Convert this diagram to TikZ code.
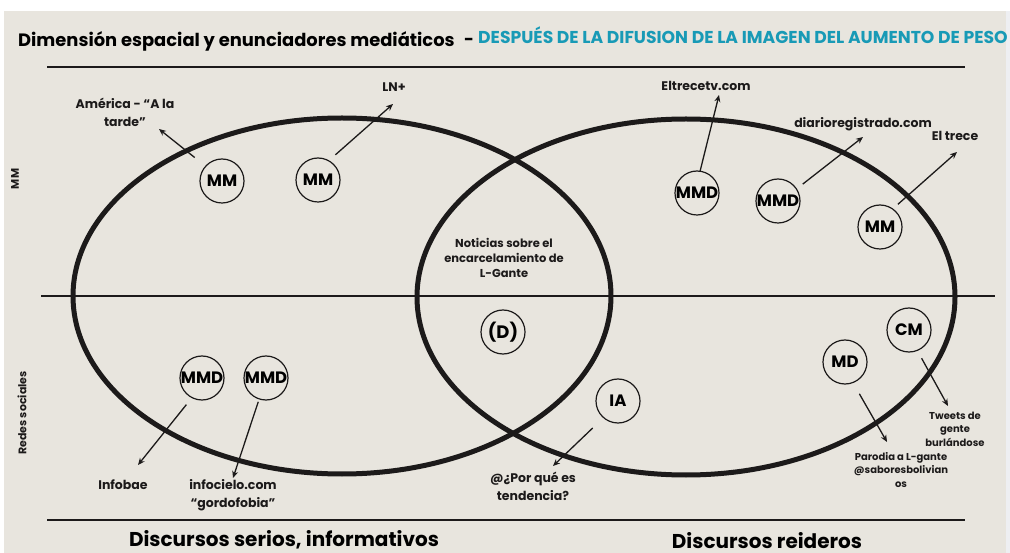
\documentclass[tikz,border=0pt]{standalone}
\usepackage{fontspec}
\setmainfont{Poppins}
\usetikzlibrary{arrows.meta}
\definecolor{bgbeige}{RGB}{232,229,222}
\definecolor{titleteal}{RGB}{24,154,182}
\definecolor{ink}{RGB}{28,26,26}
\definecolor{edgegrey}{RGB}{238,239,242}
\tikzset{
  disc/.style={circle, draw=ink, line width=1.2pt, minimum size=44pt, inner sep=0pt, outer sep=0pt,
    font=\fontsize{16.5}{16.5}\selectfont\bfseries, text=black},
  lbl/.style={font=\fontsize{12.5}{18}\selectfont\bfseries, align=center, inner sep=0pt, text=ink},
  smalllbl/.style={font=\fontsize{10}{13.5}\selectfont\bfseries, align=center, inner sep=0pt, text=ink},
  arr/.style={-{Stealth[length=7pt,width=6pt]}, line width=1.3pt, draw=ink},
  rulel/.style={line width=1.5pt, draw=ink},
  ring/.style={line width=5pt, draw=ink},
  headlbl/.style={font=\fontsize{20}{20}\selectfont\bfseries, inner sep=0pt, text=black},
  sidelbl/.style={font=\fontsize{11}{11}\selectfont\bfseries, inner sep=0pt, text=ink, rotate=90}
}
\begin{document}
\begin{tikzpicture}[x=1pt,y=-1pt]
\useasboundingbox (0,0) rectangle (1010,553);
\fill[white] (0,0) rectangle (1010,553);
\fill[bgbeige] (4,11) rectangle (1006,553);
\fill[edgegrey] (1006,11) rectangle (1010,553);

% title
\node[headlbl, anchor=base west, font=\fontsize{17.9}{17.9}\selectfont\bfseries] (title) at (18,47) {Dimensión espacial y enunciadores mediáticos};
\node[headlbl, anchor=base, font=\fontsize{17}{17}\selectfont\bfseries] (dash) at (469,46) {-};
\node[headlbl, anchor=base west, text=titleteal, font=\fontsize{17.2}{17.2}\selectfont\bfseries] (subtitle) at (478,44) {DESPUÉS DE LA DIFUSION DE LA IMAGEN DEL AUMENTO DE PESO};

% rules
\coordinate (topL) at (47,67);
\coordinate (topR) at (965,67);
\coordinate (midL) at (41,296);
\coordinate (midR) at (995,296);
\coordinate (botL) at (47,520);
\coordinate (botR) at (965,520);
\draw[rulel] (topL) -- (topR);
\draw[rulel] (midL) -- (midR);
\draw[rulel] (botL) -- (botR);

% ellipses
\draw[ring] (342,296) ellipse [x radius=269, y radius=178];
\draw[ring] (686,297) ellipse [x radius=269, y radius=178];

% side labels
\node[sidelbl] (sideMM) at (15,179) {MM};
\node[sidelbl] (sideRS) at (22,413) {Redes sociales};

% discs
\node[disc] (mm1) at (222,181) {MM};
\node[disc] (mm2) at (318,180) {MM};
\node[disc] (mmd1) at (697,193) {MMD};
\node[disc] (mmd2) at (778,201) {MMD};
\node[disc] (mm3) at (880,227) {MM};
\node[disc, font=\fontsize{18}{18}\selectfont\bfseries] (d) at (503,332) {(D)};
\node[disc] (mmd3) at (202,378) {MMD};
\node[disc] (mmd4) at (266,378) {MMD};
\node[disc] (ia) at (618,401) {IA};
\node[disc] (md) at (845,362) {MD};
\node[disc] (cm) at (909,330) {CM};

% labels
\node[lbl] (america) at (125,112) {América - “A la\\tarde”};
\node[lbl] (lnplus) at (394,87) {LN+};
\node[lbl] (eltrecetv) at (706,86) {Eltrecetv.com};
\node[lbl] (diario) at (863,124) {diarioregistrado.com};
\node[lbl] (eltrece) at (955,136) {El trece};
\node[smalllbl, font=\fontsize{11.5}{15}\selectfont\bfseries] (noticias) at (504,258) {Noticias sobre el\\encarcelamiento de\\L-Gante};
\node[lbl] (infobae) at (123,485) {Infobae};
\node[lbl] (infocielo) at (233,495) {infocielo.com\\“gordofobia”};
\node[lbl] (porque) at (533,486) {@¿Por qué es\\tendencia?};
\node[smalllbl] (parodia) at (901,470) {Parodia a L-gante\\@saboresbolivian\\os};
\node[smalllbl] (tweets) at (955,429) {Tweets de\\gente\\burlándose};

\node[headlbl, anchor=base] (serios) at (284,546) {Discursos serios, informativos};
\node[headlbl, anchor=base] (reideros) at (767,548) {Discursos reideros};

% arrow ends
\coordinate (eAmerica) at (159,129);
\coordinate (eLn) at (393,104);
\coordinate (eEltv) at (719,95);
\coordinate (eDiario) at (863,137);
\coordinate (eTrece) at (957,152);
\coordinate (eInfobae) at (138,465);
\coordinate (eInfocielo) at (233,478);
\coordinate (ePorque) at (553,466);
\coordinate (eParodia) at (887,442);
\coordinate (eTweets) at (948,406);

% arrows
\draw[arr, shorten <=14pt] (mm1.138) -- (eAmerica);
\draw[arr, shorten <=9pt] (mm2.61) -- (eLn);
\draw[arr] (mmd1.82) -- (eEltv);
\draw[arr, shorten <=8pt] (mmd2.33) -- (eDiario);
\draw[arr, shorten <=7pt] (mm3.55) -- (eTrece);
\draw[arr, shorten <=9pt] (mmd3.243) -- (eInfobae);
\draw[arr, shorten <=3pt] (mmd4.252) -- (eInfocielo);
\draw[arr, shorten <=15pt] (ia.229) -- (ePorque);
\draw[arr, shorten <=13pt] (md.291) -- (eParodia);
\draw[arr, shorten <=9pt] (cm.292) -- (eTweets);
\end{tikzpicture}
\end{document}
